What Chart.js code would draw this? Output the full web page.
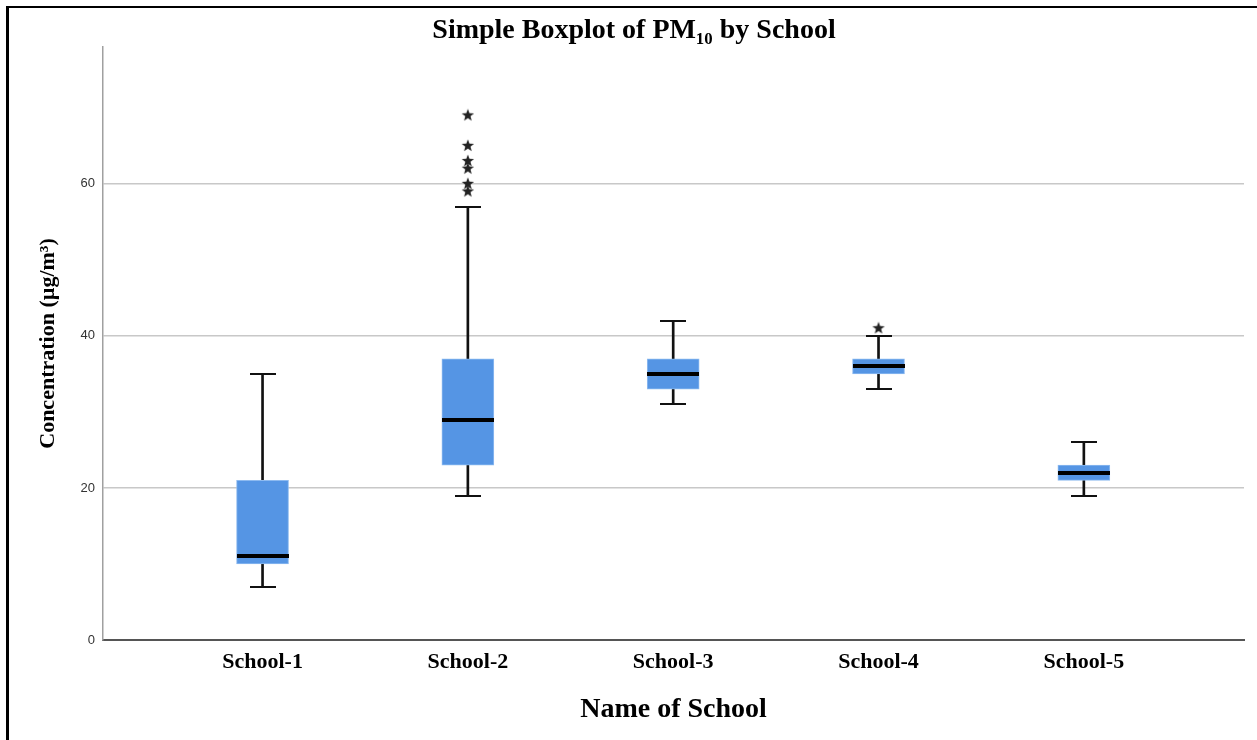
<!DOCTYPE html>
<html>
<head>
<meta charset="utf-8">
<script src="https://cdn.jsdelivr.net/npm/chart.js@4.4.1/dist/chart.umd.min.js"></script>
<style>
  html, body { margin: 0; padding: 0; background: #fff; }
  #wrap { position: relative; width: 1257px; height: 740px; }
  #frame { position: absolute; left: 6px; top: 6px; right: 0; bottom: 0;
           border-top: 2px solid #000; border-left: 3px solid #000; pointer-events: none; }
  canvas { position: absolute; left: 0; top: 0; }
</style>
</head>
<body>
<div id="wrap">
  <canvas id="c" width="1257" height="740"></canvas>
  <div id="frame"></div>
</div>
<script>
// ---- data ----
const schools = ['School-1', 'School-2', 'School-3', 'School-4', 'School-5'];
const whiskerLow  = [7, 19, 31, 33, 19];
const q1          = [10, 23, 33, 35, 21];
const median      = [11, 29, 35, 36, 22];
const q3          = [21, 37, 37, 37, 23];
const whiskerHigh = [35, 57, 42, 40, 26];
const outliers    = [[], [59, 60, 62, 63, 65, 69], [], [41], []];
const yTicks      = [0, 20, 40, 60];

// marker images (drawn by Chart.js at each data point)
function makeStar(size) {
  const c = document.createElement('canvas');
  c.width = size; c.height = size;
  const g = c.getContext('2d');
  const cx = size / 2, cy = size / 2, R = size / 2 - 0.5, r = R * 0.42;
  g.beginPath();
  for (let i = 0; i < 10; i++) {
    const a = -Math.PI / 2 + i * Math.PI / 5;
    const rad = i % 2 === 0 ? R : r;
    g.lineTo(cx + rad * Math.cos(a), cy + rad * Math.sin(a));
  }
  g.closePath();
  g.fillStyle = '#222';
  g.fill();
  return c;
}
function makeBar(w, h, color) {
  const c = document.createElement('canvas');
  c.width = w; c.height = h;
  const g = c.getContext('2d');
  g.fillStyle = color;
  g.fillRect(0, 0, w, h);
  return c;
}
const star = makeStar(14);
const medianMark = makeBar(52, 4, '#000');
const capMark = makeBar(26, 2, '#111');

const idx = schools.map((s, i) => i);
const boxData = idx.map(i => ({ x: i, y: [q1[i], q3[i]] }));
const whiskerData = idx.map(i => ({ x: i, y: [whiskerLow[i], whiskerHigh[i]] }));
const medianData = idx.map(i => ({ x: i, y: median[i] }));
const capData = idx.flatMap(i => [{ x: i, y: whiskerLow[i] }, { x: i, y: whiskerHigh[i] }]);
const outlierData = idx.flatMap(i => outliers[i].map(v => ({ x: i, y: v })));

const serif = '"Liberation Serif", "Times New Roman", serif';

new Chart(document.getElementById('c'), {
  type: 'bar',
  data: {
    datasets: [
      { type: 'bar', data: whiskerData, backgroundColor: '#111', borderWidth: 0,
        barThickness: 2, grouped: false, order: 4 },
      { type: 'bar', data: boxData, backgroundColor: '#5595e4', borderColor: '#8dbaf0',
        borderWidth: 1, borderSkipped: false, barThickness: 52, grouped: false, order: 3 },
      { type: 'line', data: capData, showLine: false, pointStyle: capMark, pointRadius: 3, order: 2 },
      { type: 'line', data: medianData, showLine: false, pointStyle: medianMark, pointRadius: 3, order: 1 },
      { type: 'line', data: outlierData, showLine: false, pointStyle: star, pointRadius: 3, order: 0 }
    ]
  },
  options: {
    responsive: false,
    animation: false,
    events: [],
    layout: { padding: { left: 24, right: 13, top: 0, bottom: 0 } },
    plugins: {
      legend: { display: false },
      tooltip: { enabled: false },
      title: {
        display: true,
        text: 'Simple Boxplot of PM\u2081\u2080 by School',
        color: '#000',
        font: { family: serif, size: 28, weight: 'bold', lineHeight: 1 },
        padding: { top: 17, bottom: 2 }
      }
    },
    scales: {
      x: {
        type: 'linear',
        offset: false,
        min: -0.777,
        max: 4.78,
        afterBuildTicks: s => { s.ticks = idx.map(v => ({ value: v })); },
        afterFit: s => { s.height = 100; s.paddingLeft = 0; s.paddingRight = 0; },
        ticks: {
          callback: v => schools[v] ?? '',
          color: '#000',
          font: { family: serif, size: 22, weight: 'bold' },
          padding: 9,
          maxRotation: 0,
          autoSkip: false
        },
        grid: { display: false, drawTicks: false },
        border: { display: true, color: '#555', width: 2 },
        title: {
          display: true,
          text: 'Name of School',
          color: '#000',
          font: { family: serif, size: 28, weight: 'bold' },
          padding: { top: 0, bottom: 13 }
        }
      },
      y: {
        min: 0,
        max: 78,
        afterBuildTicks: s => { s.ticks = yTicks.map(v => ({ value: v })); },
        afterFit: s => { s.width = 79; },
        ticks: {
          color: '#333',
          font: { family: '"Liberation Sans", Arial, sans-serif', size: 13 },
          padding: 8
        },
        grid: {
          drawTicks: false,
          color: ctx => (ctx.tick && ctx.tick.value === 0) ? 'rgba(0,0,0,0)' : '#c8c8c8',
          lineWidth: 1.5
        },
        border: { display: true, color: '#a0a0a0', width: 1.5 },
        title: {
          display: true,
          text: 'Concentration (\u00b5g/m\u00b3)',
          color: '#000',
          font: { family: serif, size: 22, weight: 'bold' },
          padding: { top: 11, bottom: 4 }
        }
      }
    }
  }
});
</script>
</body>
</html>
